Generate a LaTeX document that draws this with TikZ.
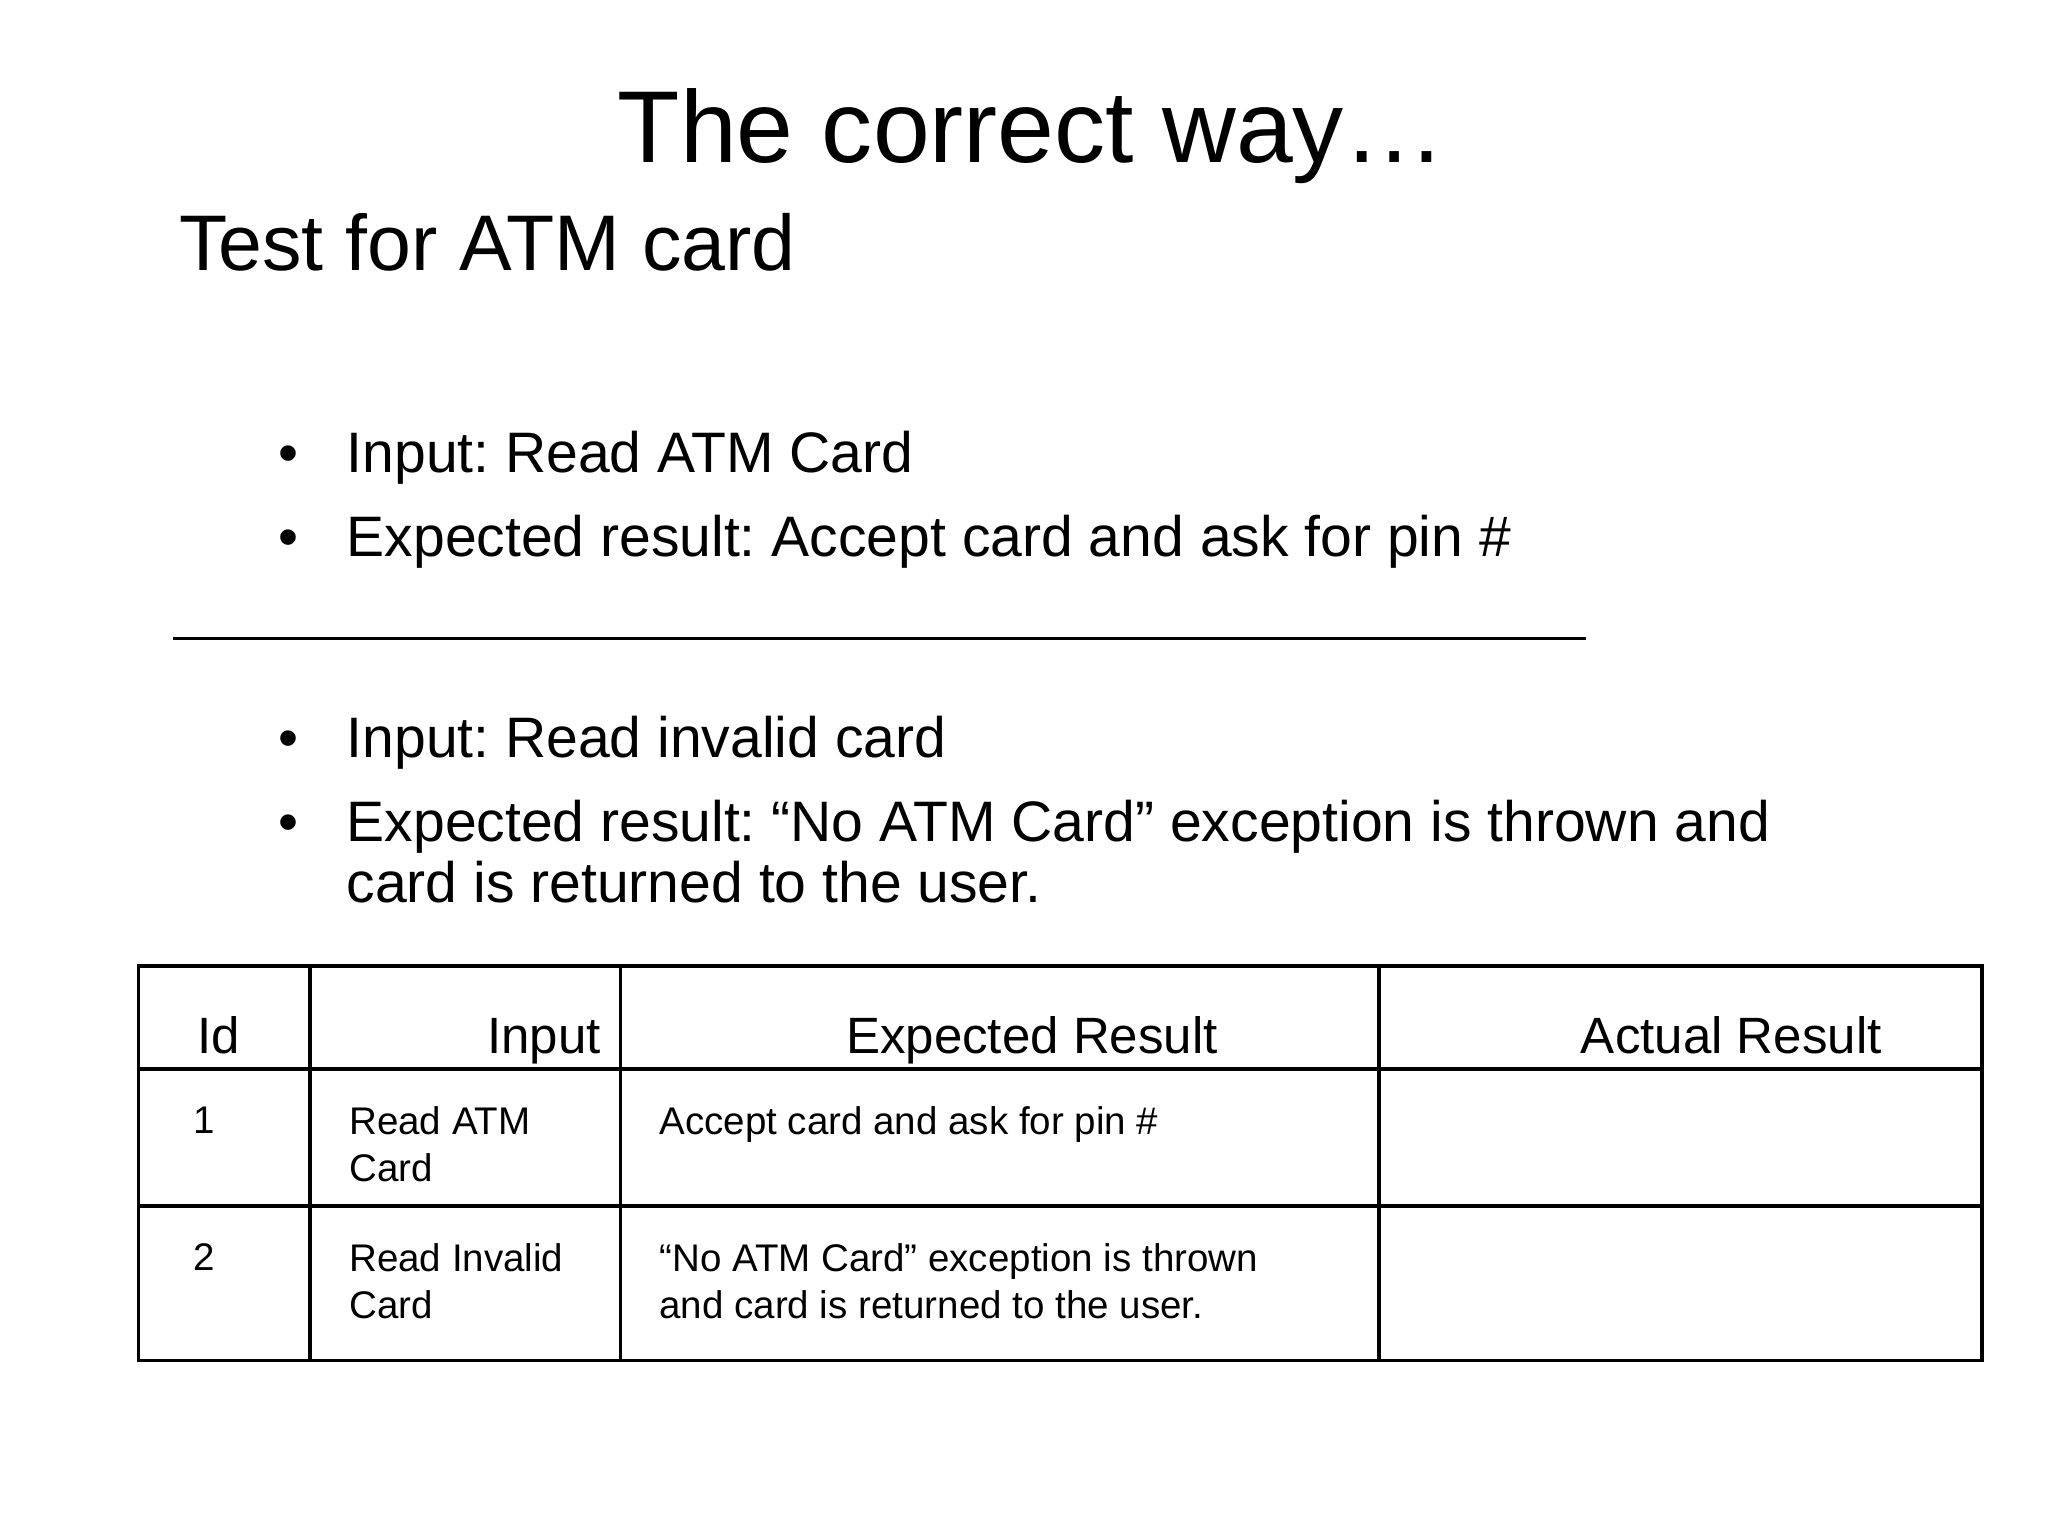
\documentclass[tikz,border=0pt]{standalone}
\usepackage{fontspec}
\setmainfont{Liberation Sans}
\frenchspacing
\begin{document}
\begin{tikzpicture}[x=0.01cm,y=-0.01cm,
  lbl/.style={inner sep=0pt,anchor=base west},
  bul/.style={lbl,font=\fontsize{12.3}{15}\selectfont},
  hd/.style={inner sep=0pt,anchor=base,font=\fontsize{11}{13}\selectfont},
  cell/.style={lbl,font=\fontsize{8.3}{10}\selectfont,align=left,anchor=north west}]
\useasboundingbox (0,0) rectangle (1552,1164);
\node[inner sep=0pt,anchor=base,font=\fontsize{22}{26}\selectfont] (title) at (782,123) {The correct way…};
\node[lbl,font=\fontsize{17}{21}\selectfont] (sub) at (135,205) {Test for ATM card};
\node[bul] (b1d) at (210,358) {•};
\node[bul] (b1) at (262,358) {Input: Read ATM Card};
\node[bul] (b2d) at (210,422) {•};
\node[bul] (b2) at (262,422) {Expected result: Accept card and ask for pin \#};
\coordinate (la) at (131,484); \coordinate (lb) at (1202,484);
\draw[line width=0.7pt] (la) -- (lb);
\node[bul] (b3d) at (210,574) {•};
\node[bul] (b3) at (262,574) {Input: Read invalid card};
\node[bul] (b4d) at (210,638) {•};
\node[bul] (b4) at (262,638) {Expected result: “No ATM Card” exception is thrown and};
\node[bul] (b4b) at (262,684) {card is returned to the user.};
% table
\draw[line width=0.7pt] (105,732) rectangle (1502,1031);
\foreach \x in {235,470,1045} \draw[line width=0.7pt] (\x,732) -- (\x,1031);
\foreach \y in {810,914} \draw[line width=0.7pt] (105,\y) -- (1502,\y);
\node[hd] (h1) at (166,798) {Id};
\node[hd,anchor=base east] (h2) at (456,798) {Input};
\node[hd] (h3) at (782,798) {Expected Result};
\node[hd] (h4) at (1312,798) {Actual Result};
\node[cell] (c11) at (146,838) {1};
\node[cell] (c12) at (264,838) {Read ATM\\Card};
\node[cell] (c13) at (499,838) {Accept card and ask for pin \#};
\node[cell] (c21) at (146,942) {2};
\node[cell] (c22) at (264,942) {Read Invalid\\Card};
\node[cell] (c23) at (499,942) {“No ATM Card” exception is thrown\\and card is returned to the user.};
\end{tikzpicture}
\end{document}
